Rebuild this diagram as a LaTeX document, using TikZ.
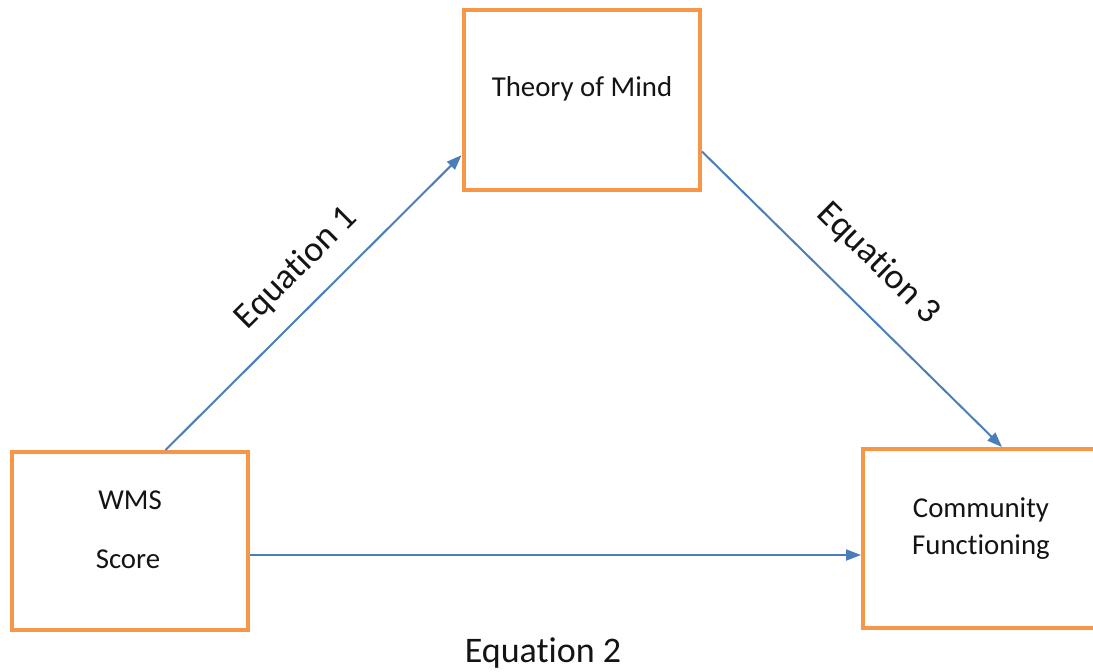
\documentclass[tikz,border=0pt]{standalone}
\usepackage{fontspec}
\setmainfont[RawFeature={-liga;-clig;-dlig;-calt;-hlig}]{Carlito}
\usetikzlibrary{arrows.meta,calc}
\definecolor{boxorange}{RGB}{247,150,70}
\definecolor{arrowblue}{RGB}{74,126,187}
\definecolor{textdark}{RGB}{20,20,20}
\tikzset{
  varbox/.style={draw=boxorange, line width=4pt, fill=white, rectangle, inner sep=0pt},
  boxtext/.style={font=\fontsize{28.8}{34}\selectfont, text=textdark, inner sep=0pt, anchor=base},
  eqtext/.style={font=\fontsize{36}{42}\selectfont, text=textdark, inner sep=0pt},
  arr/.style={draw=arrowblue, line width=2pt, -{Triangle[length=15pt,width=11pt]}}
}
\begin{document}
\begin{tikzpicture}[x=1pt,y=1pt]
\useasboundingbox (0,0) rectangle (1093,-672);
\clip (0,0) rectangle (1093,-672);
% boxes
\node[varbox, minimum width=236.5pt, minimum height=180pt] (tom) at (581.75,-100) {};
\node[varbox, minimum width=236pt, minimum height=178pt] (wms) at (130,-541) {};
\node[varbox, minimum width=236pt, minimum height=179pt] (cf) at (981,-538.5) {};
% box texts
\node[boxtext] (tomt) at (582,-96.7) {Theory of Mind};
\node[boxtext] (wmst1) at (130,-509) {WMS};
\node[boxtext] (wmst2) at (128,-568.3) {Score};
\node[boxtext] (cft1) at (981,-517.3) {Community};
\node[boxtext] (cft2) at (981,-554) {Functioning};
% connectors
\coordinate (e1s) at ($(wms.north west)!0.648!(wms.north east)$);
\coordinate (e1e) at ($(tom.north west)!0.80!(tom.south west)$);
\coordinate (e3s) at ($(tom.north east)!0.78!(tom.south east)$);
\coordinate (e3e) at ($(cf.north west)!0.5875!(cf.north east)$);
\coordinate (e2s) at ($(wms.north east)!0.577!(wms.south east)$);
\draw[arr] (e1s) -- (e1e);
\draw[arr] (e3s) -- (e3e);
\draw[arr] (e2s) -- (e2s -| cf.west);
% equation labels
\node[eqtext, rotate=44.8] (eq1) at (296.7,-268.3) {Equation 1};
\node[eqtext, rotate=-44.5] (eq3) at (878.3,-263.3) {Equation 3};
\node[eqtext, anchor=base] (eq2) at (543,-662) {Equation 2};
\end{tikzpicture}
\end{document}
